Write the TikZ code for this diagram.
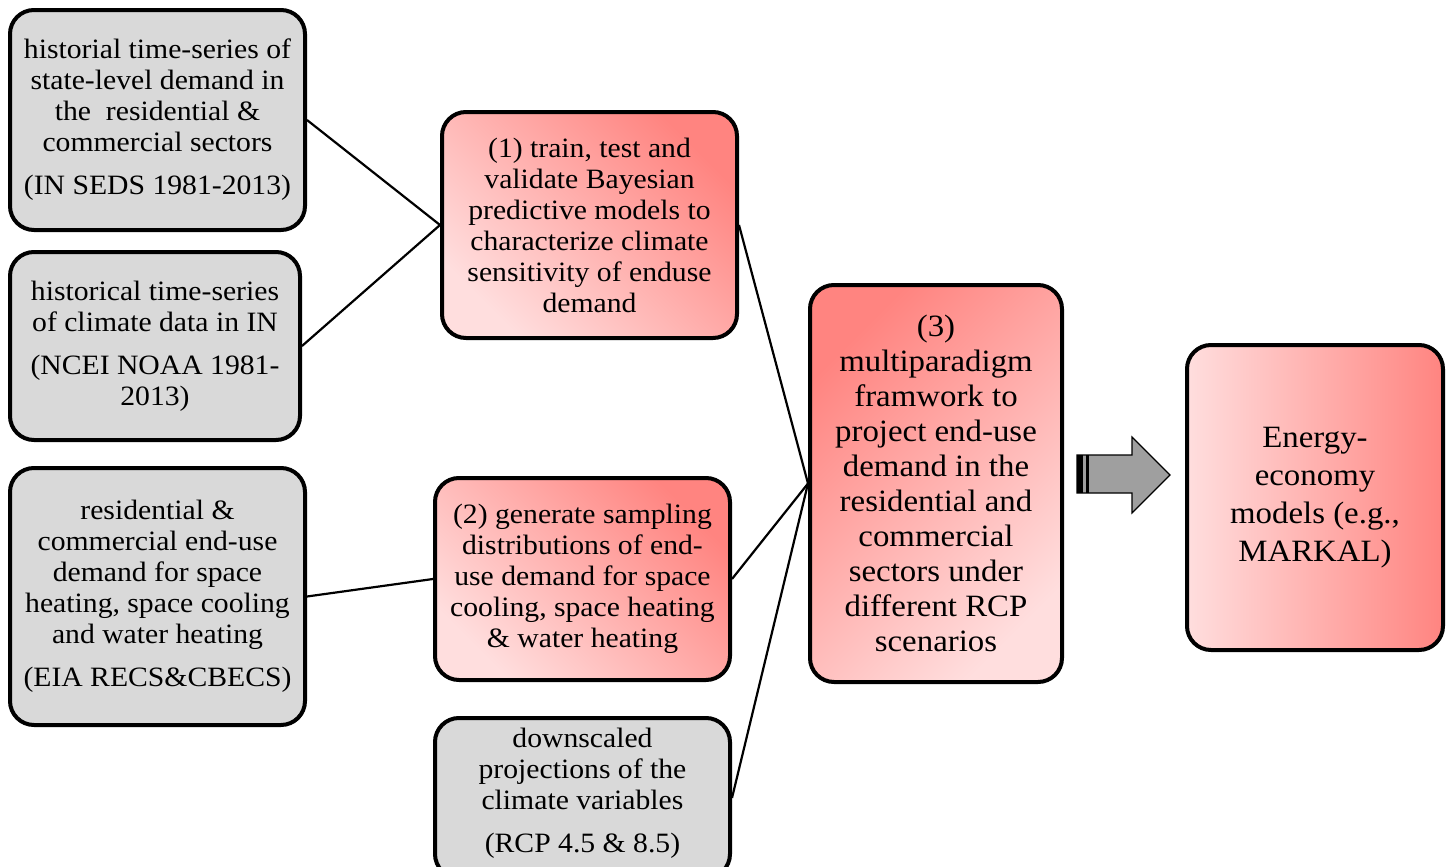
\documentclass[tikz,border=0pt]{standalone}
\usepackage{fontspec}
\setmainfont[FakeStretch=1.06]{Liberation Serif}
\begin{document}
\begin{tikzpicture}[x=0.5pt,y=-0.5pt,
  box/.style={draw=black, line width=2pt, rounded corners=12pt, align=center, inner sep=0pt,
    font=\fontsize{14pt}{15.5pt}\selectfont},
  graybox/.style={box, fill=boxgray},
  redbox/.style={box, top color=rdark, bottom color=rlight},
  conn/.style={line width=1.1pt, black},
]
\definecolor{boxgray}{RGB}{217,217,217}
\definecolor{rdark}{RGB}{255,132,128}
\definecolor{rlight}{RGB}{255,222,222}
\useasboundingbox (0,0) rectangle (1448,867);
\clip (0,0) rectangle (1448,867);

\node[graybox, minimum width=147.5pt, minimum height=110pt] (A) at (157.5,120)
 {historial time-series of\\ state-level demand in\\ the\ \ residential \&\\ commercial sectors\\[6pt] (IN SEDS 1981-2013)};
\node[graybox, minimum width=145pt, minimum height=94pt] (B) at (155,346)
 {historical time-series\\ of climate data in IN\\[6pt] (NCEI NOAA 1981-\\ 2013)};
\node[graybox, minimum width=147.5pt, minimum height=128.5pt] (C) at (157.5,596.5)
 {residential \&\\ commercial end-use\\ demand for space\\ heating, space cooling\\ and water heating\\[6pt] (EIA RECS\&CBECS)};

\node[redbox, shading angle=-45, minimum width=147.5pt, minimum height=113pt] (D) at (589.5,225)
 {(1) train, test and\\ validate Bayesian\\ predictive models to\\ characterize climate\\ sensitivity of enduse\\ demand};
\node[redbox, shading angle=-45, minimum width=147.5pt, minimum height=101pt] (E) at (582.5,579)
 {(2) generate sampling\\ distributions of end-\\ use demand for space\\ cooling, space heating\\ \& water heating};
\node[graybox, minimum width=147.5pt, minimum height=80pt, anchor=north] (F) at (582.5,716)
 {};
\node[font=\fontsize{14pt}{15.5pt}\selectfont, align=center, inner sep=0pt] (Ft) at (582.5,793)
 {downscaled\\ projections of the\\ climate variables\\[6pt] (RCP 4.5 \& 8.5)};

\node[redbox, shading angle=45, minimum width=126pt, minimum height=198.5pt,
  font=\fontsize{15.5pt}{17.5pt}\selectfont] (G) at (936,483.5)
 {(3)\\ multiparadigm\\ framwork to\\ project end-use\\ demand in the\\ residential and\\ commercial\\ sectors under\\ different RCP\\ scenarios};
\node[redbox, shading angle=-90, minimum width=128pt, minimum height=152.5pt,
  font=\fontsize{15.5pt}{19pt}\selectfont] (H) at (1315,497.5)
 {Energy-\\ economy\\ models (e.g.,\\ MARKAL)};

\draw[conn] (A.east) -- (D.west);
\draw[conn] (B.east) -- (D.west);
\draw[conn] (C.east) -- (E.west);
\draw[conn] (D.east) -- (G.west);
\draw[conn] (E.east) -- (G.west);
\draw[conn] (F.east) -- (G.west);

% block arrow
\draw[line width=0.6pt, fill=gray!75] (1077,455) -- (1132,455) -- (1132,437) -- (1170,475)
  -- (1132,513) -- (1132,493) -- (1077,493) -- cycle;
\fill[black] (1077,455) rectangle (1083,493);
\fill[black] (1086,455) rectangle (1089,493);
\end{tikzpicture}
\end{document}
